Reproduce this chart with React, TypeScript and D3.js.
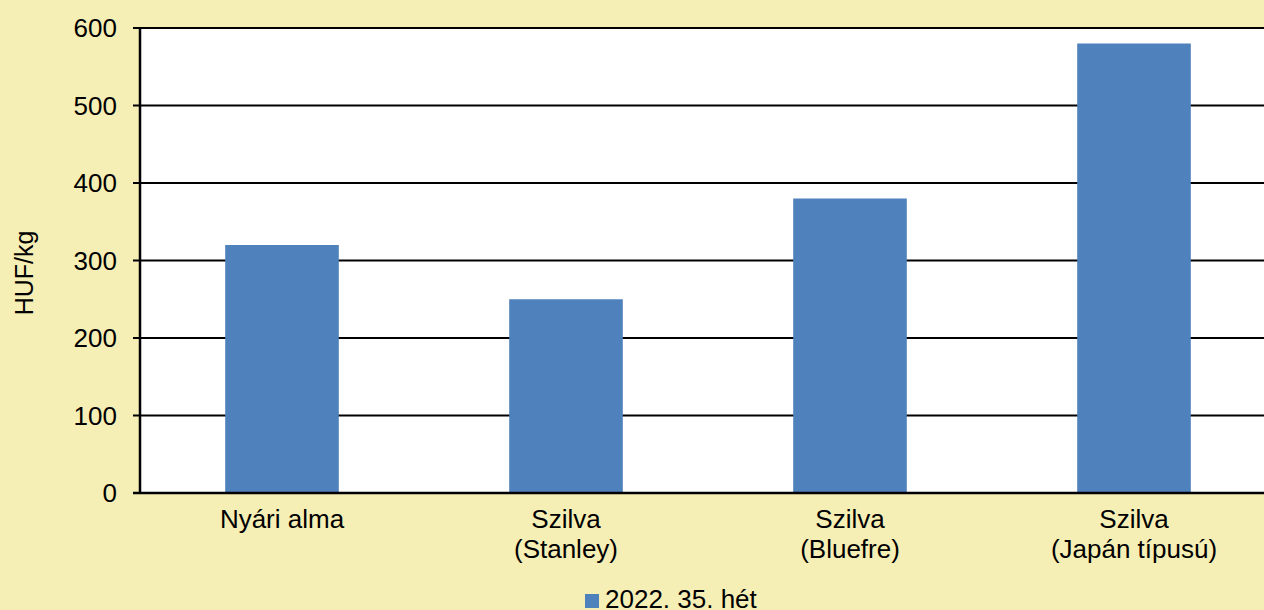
import React, { useEffect, useRef } from 'react';
import * as d3 from 'd3';

const categories = ['Nyári alma', 'Szilva\n(Stanley)', 'Szilva\n(Bluefre)', 'Szilva\n(Japán típusú)'];
const values = [320, 250, 380, 580];
const yTicks = [0, 100, 200, 300, 400, 500, 600];
const seriesName = '2022. 35. hét';

const width = 1264;
const height = 610;

const App: React.FC = () => {
  const svgRef = useRef<SVGSVGElement>(null);

  useEffect(() => {
    if (!svgRef.current) return;
    const svg = d3.select(svgRef.current);
    svg.selectAll('*').remove();

    const margin = { top: 28, left: 140, bottom: 493 };
    const font = 'Liberation Sans, Arial, sans-serif';

    svg.append('rect').attr('width', width).attr('height', height).attr('fill', '#F6EFB5');

    const x = d3
      .scaleBand<string>()
      .domain(categories)
      .range([margin.left, margin.left + 1136])
      .paddingInner(0.6)
      .paddingOuter(0.3);

    const y = d3.scaleLinear().domain([0, 600]).range([margin.bottom, margin.top]);

    // Plot area
    svg.append('rect')
      .attr('x', margin.left)
      .attr('y', margin.top)
      .attr('width', width - margin.left + 10)
      .attr('height', margin.bottom - margin.top)
      .attr('fill', '#ffffff');

    // Gridlines + ticks
    svg.selectAll('.grid')
      .data(yTicks)
      .enter()
      .append('line')
      .attr('x1', margin.left - 7)
      .attr('x2', width + 5)
      .attr('y1', d => y(d))
      .attr('y2', d => y(d))
      .attr('stroke', '#000')
      .attr('stroke-width', 2);

    svg.selectAll('.ytick')
      .data(yTicks)
      .enter()
      .append('text')
      .attr('x', margin.left - 23)
      .attr('y', d => y(d))
      .attr('dy', '0.35em')
      .attr('text-anchor', 'end')
      .style('font-family', font)
      .style('font-size', '26px')
      .attr('fill', '#000')
      .text(d => d);

    // Bars
    svg.selectAll('.bar')
      .data(values)
      .enter()
      .append('rect')
      .attr('x', (_, i) => x(categories[i]) as number)
      .attr('y', d => y(d))
      .attr('width', x.bandwidth())
      .attr('height', d => y(0) - y(d))
      .attr('fill', '#4F81BD');

    // Axes
    svg.append('line')
      .attr('x1', margin.left).attr('x2', margin.left)
      .attr('y1', margin.top).attr('y2', margin.bottom)
      .attr('stroke', '#000').attr('stroke-width', 2.5);
    svg.append('line')
      .attr('x1', margin.left - 7).attr('x2', width + 5)
      .attr('y1', margin.bottom).attr('y2', margin.bottom)
      .attr('stroke', '#000').attr('stroke-width', 2.5);

    // Category labels
    categories.forEach(c => {
      const cx = (x(c) as number) + x.bandwidth() / 2;
      const t = svg.append('text')
        .attr('text-anchor', 'middle')
        .style('font-family', font)
        .style('font-size', '26px')
        .attr('fill', '#000');
      c.split('\n').forEach((line, j) => {
        t.append('tspan').attr('x', cx).attr('y', 528 + j * 30).text(line);
      });
    });

    // Y axis title
    svg.append('text')
      .attr('transform', `translate(33, 273) rotate(-90)`)
      .attr('text-anchor', 'middle')
      .style('font-family', font)
      .style('font-size', '25px')
      .attr('fill', '#000')
      .text('HUF/kg');

    // Legend
    svg.append('rect')
      .attr('x', 585).attr('y', 594).attr('width', 14).attr('height', 14)
      .attr('fill', '#4F81BD');
    svg.append('text')
      .attr('x', 605).attr('y', 608)
      .style('font-family', font)
      .style('font-size', '26px')
      .attr('fill', '#000')
      .text(seriesName);
  }, []);

  return (
    <div style={{ position: 'fixed', left: 0, top: 0 }}>
      <svg ref={svgRef} width={width} height={height} style={{ display: 'block' }} />
    </div>
  );
};

export default App;
